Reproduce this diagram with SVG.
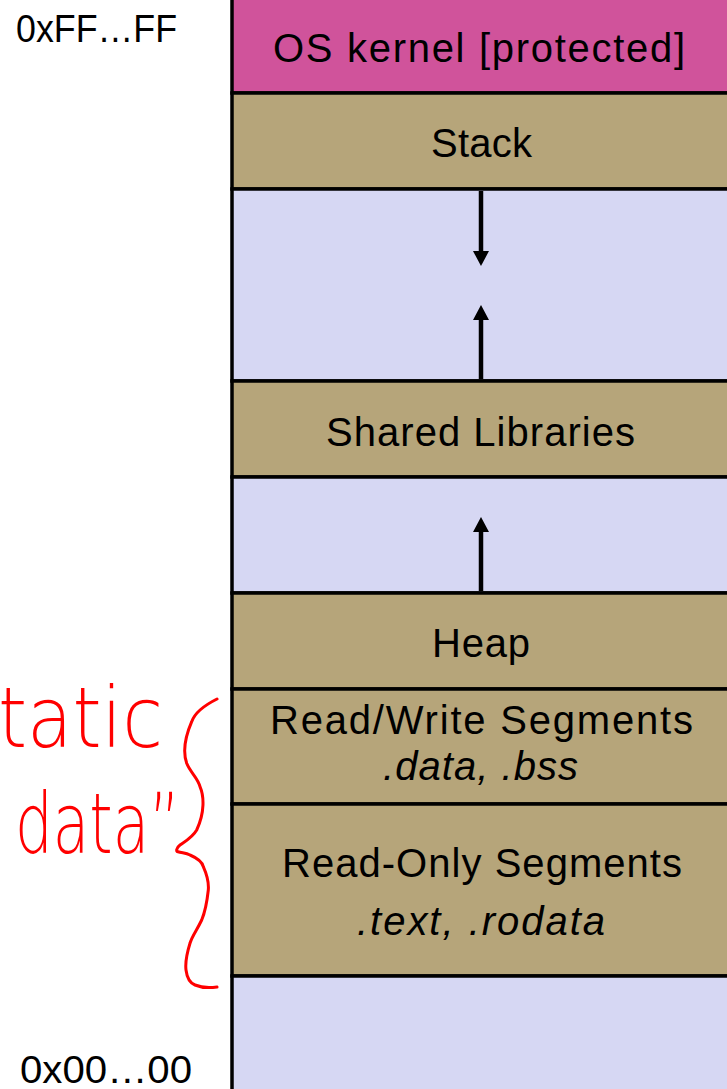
<svg xmlns="http://www.w3.org/2000/svg" width="727" height="1089" viewBox="0 0 727 1089">
<style>
.seg{stroke:#000;stroke-width:3.5}
.os{fill:#D0539B}
.tan{fill:#B6A57A}
.free{fill:#D6D7F3}
.lbl{font-family:"Liberation Sans",Arial,sans-serif;font-size:40px;fill:#000;text-anchor:middle}
.it{font-style:italic}
.addr{font-family:"Liberation Sans",Arial,sans-serif;font-size:39px;fill:#000}
.hand{font-family:"DejaVu Sans","Liberation Sans",sans-serif;font-weight:200;font-size:84px;fill:#FF0000}
.arrow{stroke:#000;stroke-width:4.5;fill:none}
</style>
<defs>
<marker id="ah" viewBox="0 0 15 16" refX="1" refY="8" markerWidth="15" markerHeight="16" markerUnits="userSpaceOnUse" orient="auto">
<path d="M0,0 L15,8 L0,16 z" fill="#000"/>
</marker>
</defs>
<rect width="727" height="1089" fill="#fff"/>
<g id="os-kernel"><rect class="seg os" x="232" y="-3" width="520" height="96"/><text class="lbl" x="479" y="62" textLength="412">OS kernel [protected]</text></g>
<g id="stack"><rect class="seg tan" x="232" y="93" width="520" height="96"/><text class="lbl" x="481.5" y="157" textLength="101">Stack</text></g>
<g id="free-top"><rect class="seg free" x="232" y="189" width="520" height="192"/></g>
<g id="shared-libraries"><rect class="seg tan" x="232" y="381" width="520" height="96"/><text class="lbl" x="480.5" y="446" textLength="309">Shared Libraries</text></g>
<g id="free-mid"><rect class="seg free" x="232" y="477" width="520" height="116"/></g>
<g id="heap"><rect class="seg tan" x="232" y="593" width="520" height="96"/><text class="lbl" x="481" y="657" textLength="98">Heap</text></g>
<g id="rw-segments"><rect class="seg tan" x="232" y="689" width="520" height="115"/><text class="lbl" x="481.5" y="734" textLength="423">Read/Write Segments</text><text class="lbl it" x="480.5" y="780" textLength="195">.data, .bss</text></g>
<g id="ro-segments"><rect class="seg tan" x="232" y="804" width="520" height="172"/><text class="lbl" x="482" y="877" textLength="400">Read-Only Segments</text><text class="lbl it" x="481" y="935" textLength="248">.text, .rodata</text></g>
<g id="free-bottom"><rect class="seg free" x="232" y="976" width="520" height="120"/></g>
<g id="connectors">
<line class="arrow" x1="481" y1="191" x2="481" y2="252" marker-end="url(#ah)"/>
<line class="arrow" x1="481" y1="379" x2="481" y2="319" marker-end="url(#ah)"/>
<line class="arrow" x1="481" y1="591" x2="481" y2="531" marker-end="url(#ah)"/>
</g>
<g id="addresses">
<text class="addr" x="16" y="42" textLength="161" lengthAdjust="spacingAndGlyphs">0xFF…FF</text>
<text class="addr" x="20" y="1083" textLength="172" lengthAdjust="spacingAndGlyphs">0x00…00</text>
</g>
<g id="annotation">
<text class="hand" x="-2" y="747" textLength="165" lengthAdjust="spacingAndGlyphs">tatic</text>
<text class="hand" x="15" y="853" textLength="165" lengthAdjust="spacingAndGlyphs">data”</text>
<path d="M217,699 C205,705 195,712 191.7,721.7 C186,735 182,750 186.7,763.3 C190,772 198,778 200,786.7 C204,796 205,812 196.7,830 C192,838 184,842 180,845 C176,848 176,852 178,851.7 C182,853 186,853 190,855 C197,858 202,861 203.3,866.7 C207,875 209,882 208.3,890 C207,902 205,912 201.7,920 C197,930 192,936 190,943.3 C187,953 185,962 186,970 C187,978 190,983 195,985 C202,988 210,988 217,987" fill="none" stroke="#FF0000" stroke-width="3" stroke-linecap="round"/>
</g>
</svg>
